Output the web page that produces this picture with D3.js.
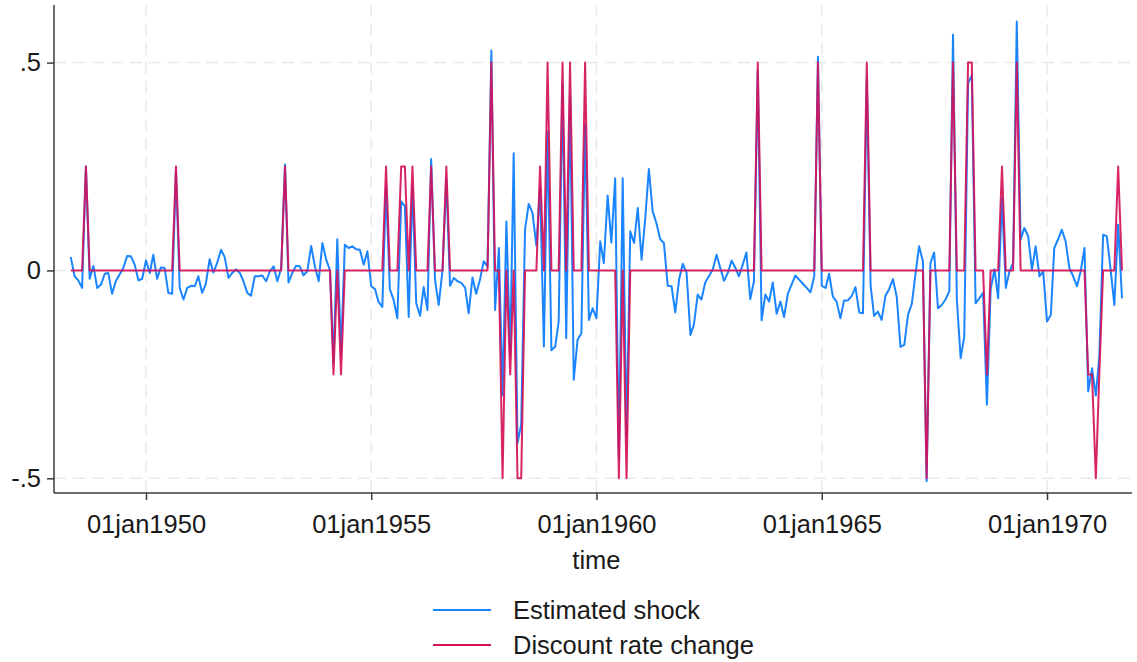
<!DOCTYPE html>
<html>
<head>
<meta charset="utf-8">
<script src="https://cdn.jsdelivr.net/npm/d3@7"></script>
<style>
  html, body { margin: 0; padding: 0; background: #ffffff; }
  svg { display: block; font-family: "Liberation Sans", Arial, sans-serif; }
</style>
</head>
<body>
<svg id="chart" width="1137" height="662"></svg>
<script>
// Monthly series, May 1948 – Sep 1971; each row is one calendar year.
const firstMonth = new Date(1948, 4, 1);

const estimatedShock = [
  /* 1948 */ 0.032, -0.014, -0.024, -0.042, 0.25, -0.02, 0.011, -0.042,
  /* 1949 */ -0.034, -0.008, -0.006, -0.056, -0.026, -0.01, 0.006, 0.035, 0.034, 0.014, -0.024, -0.02,
  /* 1950 */ 0.024, -0.006, 0.038, -0.02, 0.007, 0.006, -0.054, -0.056, 0.24, -0.042, -0.07, -0.042,
  /* 1951 */ -0.037, -0.038, -0.014, -0.054, -0.032, 0.027, -0.005, 0.018, 0.05, 0.032, -0.018, -0.006,
  /* 1952 */ 0.003, -0.006, -0.026, -0.054, -0.061, -0.014, -0.014, -0.012, -0.026, -0.002, 0.01, -0.026,
  /* 1953 */ 0.006, 0.255, -0.029, -0.006, 0.011, 0.01, -0.012, -0.002, 0.059, 0.01, -0.026, 0.066,
  /* 1954 */ 0.026, 0.0, -0.22, 0.075, -0.2, 0.062, 0.054, 0.058, 0.051, 0.05, 0.014, 0.046,
  /* 1955 */ -0.038, -0.045, -0.075, -0.088, 0.2, -0.045, -0.07, -0.115, 0.166, 0.154, -0.112, 0.2,
  /* 1956 */ -0.079, -0.109, -0.04, -0.095, 0.268, -0.022, -0.083, 0.0, 0.22, -0.037, -0.018, -0.026,
  /* 1957 */ -0.03, -0.042, -0.103, -0.017, -0.056, -0.022, 0.022, 0.01, 0.529, -0.095, 0.054, -0.3,
  /* 1958 */ 0.118, -0.2, 0.282, -0.415, -0.371, 0.098, 0.16, 0.138, 0.06, 0.2, -0.183, 0.334,
  /* 1959 */ -0.192, -0.183, -0.123, 0.45, -0.163, 0.42, -0.263, -0.167, -0.151, 0.35, -0.119, -0.091,
  /* 1960 */ -0.115, 0.07, 0.018, 0.18, 0.067, 0.222, -0.45, 0.222, -0.4, 0.094, 0.066, 0.15,
  /* 1961 */ 0.026, 0.13, 0.244, 0.142, 0.114, 0.075, 0.066, -0.037, -0.038, -0.101, -0.022, 0.016,
  /* 1962 */ -0.006, -0.155, -0.131, -0.058, -0.07, -0.029, -0.014, 0.002, 0.038, 0.006, -0.025, -0.006,
  /* 1963 */ 0.024, 0.006, -0.014, 0.014, 0.043, -0.069, -0.026, 0.48, -0.12, -0.058, -0.075, -0.029,
  /* 1964 */ -0.104, -0.075, -0.112, -0.056, -0.034, -0.012, -0.022, -0.032, -0.042, -0.053, -0.014, 0.514,
  /* 1965 */ -0.037, -0.042, -0.008, -0.063, -0.075, -0.115, -0.072, -0.072, -0.061, -0.04, -0.101, -0.103,
  /* 1966 */ 0.46, -0.037, -0.109, -0.099, -0.119, -0.061, -0.045, -0.021, -0.064, -0.184, -0.179, -0.107,
  /* 1967 */ -0.08, -0.006, 0.058, 0.022, -0.507, 0.018, 0.043, -0.091, -0.083, -0.07, -0.05, 0.567,
  /* 1968 */ -0.07, -0.211, -0.159, 0.45, 0.47, -0.079, -0.067, -0.054, -0.323, -0.046, 0.003, -0.067,
  /* 1969 */ 0.174, -0.042, -0.004, 0.018, 0.599, 0.074, 0.102, 0.083, 0.002, 0.058, -0.014, -0.002,
  /* 1970 */ -0.123, -0.107, 0.054, 0.075, 0.098, 0.07, 0.006, -0.014, -0.038, -0.002, 0.054, -0.291,
  /* 1971 */ -0.235, -0.301, -0.207, 0.086, 0.082, 0.002, -0.083, 0.11, -0.067
];

const discountRateChange = [
  /* 1948 */ 0, 0, 0, 0, 0.25, 0, 0, 0,
  /* 1949 */ 0, 0, 0, 0, 0, 0, 0, 0, 0, 0, 0, 0,
  /* 1950 */ 0, 0, 0, 0, 0, 0, 0, 0, 0.25, 0, 0, 0,
  /* 1951 */ 0, 0, 0, 0, 0, 0, 0, 0, 0, 0, 0, 0,
  /* 1952 */ 0, 0, 0, 0, 0, 0, 0, 0, 0, 0, 0, 0,
  /* 1953 */ 0, 0.25, 0, 0, 0, 0, 0, 0, 0, 0, 0, 0,
  /* 1954 */ 0, 0, -0.25, 0, -0.25, 0, 0, 0, 0, 0, 0, 0,
  /* 1955 */ 0, 0, 0, 0, 0.25, 0, 0, 0, 0.25, 0.25, 0, 0.25,
  /* 1956 */ 0, 0, 0, 0, 0.25, 0, 0, 0, 0.25, 0, 0, 0,
  /* 1957 */ 0, 0, 0, 0, 0, 0, 0, 0, 0.5, 0, 0, -0.5,
  /* 1958 */ 0, -0.25, 0, -0.5, -0.5, 0, 0, 0, 0, 0.25, 0, 0.5,
  /* 1959 */ 0, 0, 0, 0.5, 0, 0.5, 0, 0, 0, 0.5, 0, 0,
  /* 1960 */ 0, 0, 0, 0, 0, 0, -0.5, 0, -0.5, 0, 0, 0,
  /* 1961 */ 0, 0, 0, 0, 0, 0, 0, 0, 0, 0, 0, 0,
  /* 1962 */ 0, 0, 0, 0, 0, 0, 0, 0, 0, 0, 0, 0,
  /* 1963 */ 0, 0, 0, 0, 0, 0, 0, 0.5, 0, 0, 0, 0,
  /* 1964 */ 0, 0, 0, 0, 0, 0, 0, 0, 0, 0, 0, 0.5,
  /* 1965 */ 0, 0, 0, 0, 0, 0, 0, 0, 0, 0, 0, 0,
  /* 1966 */ 0.5, 0, 0, 0, 0, 0, 0, 0, 0, 0, 0, 0,
  /* 1967 */ 0, 0, 0, 0, -0.5, 0, 0, 0, 0, 0, 0, 0.5,
  /* 1968 */ 0, 0, 0, 0.5, 0.5, 0, 0, 0, -0.25, 0, 0, 0,
  /* 1969 */ 0.25, 0, 0, 0, 0.5, 0, 0, 0, 0, 0, 0, 0,
  /* 1970 */ 0, 0, 0, 0, 0, 0, 0, 0, 0, 0, 0, -0.25,
  /* 1971 */ -0.25, -0.5, -0.25, 0, 0, 0, 0, 0.25, 0
];

const xTickDates = [new Date(1950, 0, 1), new Date(1955, 0, 1), new Date(1960, 0, 1),
                    new Date(1965, 0, 1), new Date(1970, 0, 1)];
const xTickLabels = ["01jan1950", "01jan1955", "01jan1960", "01jan1965", "01jan1970"];
const yTickValues = [-0.5, 0, 0.5];
const yTickLabels = ["-.5", "0", ".5"];

const seriesNames = ["Estimated shock", "Discount rate change"];
const seriesColors = ["#1a85ff", "#d41159"];

const months = estimatedShock.map((_, i) => d3.timeMonth.offset(firstMonth, i));

// Plot frame
const plot = { left: 54, right: 1132, top: 5, bottom: 493 };
const fontSize = "25.5px";

const x = d3.scaleTime()
  .domain([xTickDates[0], xTickDates[xTickDates.length - 1]])
  .range([146, 1047]);
const y = d3.scaleLinear().domain([-0.5, 0.5]).range([478.3, 62.6]);

const svg = d3.select("#chart");
const textColor = "#1a1a1a";
const axisColor = "#3a3a3a";

// Dashed grid
const grid = svg.append("g").attr("stroke", "#e9e9e9").attr("stroke-width", 1.5)
  .attr("stroke-dasharray", "12,7").attr("fill", "none");
grid.selectAll("line.h").data(yTickValues).join("line").attr("class", "h")
  .attr("x1", plot.left).attr("x2", plot.right)
  .attr("y1", d => y(d)).attr("y2", d => y(d));
grid.selectAll("line.v").data(xTickDates).join("line").attr("class", "v")
  .attr("y1", plot.top).attr("y2", plot.bottom)
  .attr("x1", d => x(d)).attr("x2", d => x(d));

// Series lines
const series = [estimatedShock, discountRateChange];
series.forEach((vals, k) => {
  const line = d3.line().x((d, i) => x(months[i])).y(d => y(d));
  svg.append("path")
    .datum(vals)
    .attr("fill", "none")
    .attr("stroke", seriesColors[k])
    .attr("stroke-width", 2)
    .attr("stroke-linejoin", "round")
    .attr("stroke-opacity", k === 1 ? 0.92 : 1)
    .attr("d", line);
});

// Axes
const yAxis = d3.axisLeft(y).tickValues(yTickValues).tickSize(7).tickPadding(6)
  .tickFormat((d, i) => yTickLabels[i]);
const gy = svg.append("g").attr("transform", `translate(${plot.left},0)`).call(yAxis);
gy.select(".domain").remove();
gy.selectAll(".tick line").attr("stroke", axisColor).attr("stroke-width", 1.5);
gy.selectAll(".tick text").attr("fill", textColor).style("font-size", fontSize)
  .style("font-family", "'Liberation Sans', Arial, sans-serif");

const xAxis = d3.axisBottom(x).tickValues(xTickDates).tickSize(7).tickPadding(15)
  .tickFormat((d, i) => xTickLabels[i]);
const gx = svg.append("g").attr("transform", `translate(0,${plot.bottom})`).call(xAxis);
gx.select(".domain").remove();
gx.selectAll(".tick line").attr("stroke", axisColor).attr("stroke-width", 1.5);
gx.selectAll(".tick text").attr("fill", textColor).style("font-size", fontSize)
  .style("font-family", "'Liberation Sans', Arial, sans-serif");

svg.append("line").attr("x1", plot.left).attr("x2", plot.left)
  .attr("y1", plot.top).attr("y2", plot.bottom)
  .attr("stroke", axisColor).attr("stroke-width", 1.5);
svg.append("line").attr("x1", plot.left).attr("x2", plot.right)
  .attr("y1", plot.bottom).attr("y2", plot.bottom)
  .attr("stroke", axisColor).attr("stroke-width", 1.5);

// Axis title
svg.append("text").attr("x", x(xTickDates[2])).attr("y", 569)
  .attr("text-anchor", "middle").attr("fill", textColor)
  .style("font-size", fontSize).text("time");

// Legend
const legend = svg.append("g");
seriesNames.forEach((name, k) => {
  const ly = 610 + k * 35;
  legend.append("line").attr("x1", 433).attr("x2", 491).attr("y1", ly).attr("y2", ly)
    .attr("stroke", seriesColors[k]).attr("stroke-width", 2);
  legend.append("text").attr("x", 513).attr("y", ly + 9).attr("fill", textColor)
    .style("font-size", fontSize).text(name);
});
</script>
</body>
</html>
